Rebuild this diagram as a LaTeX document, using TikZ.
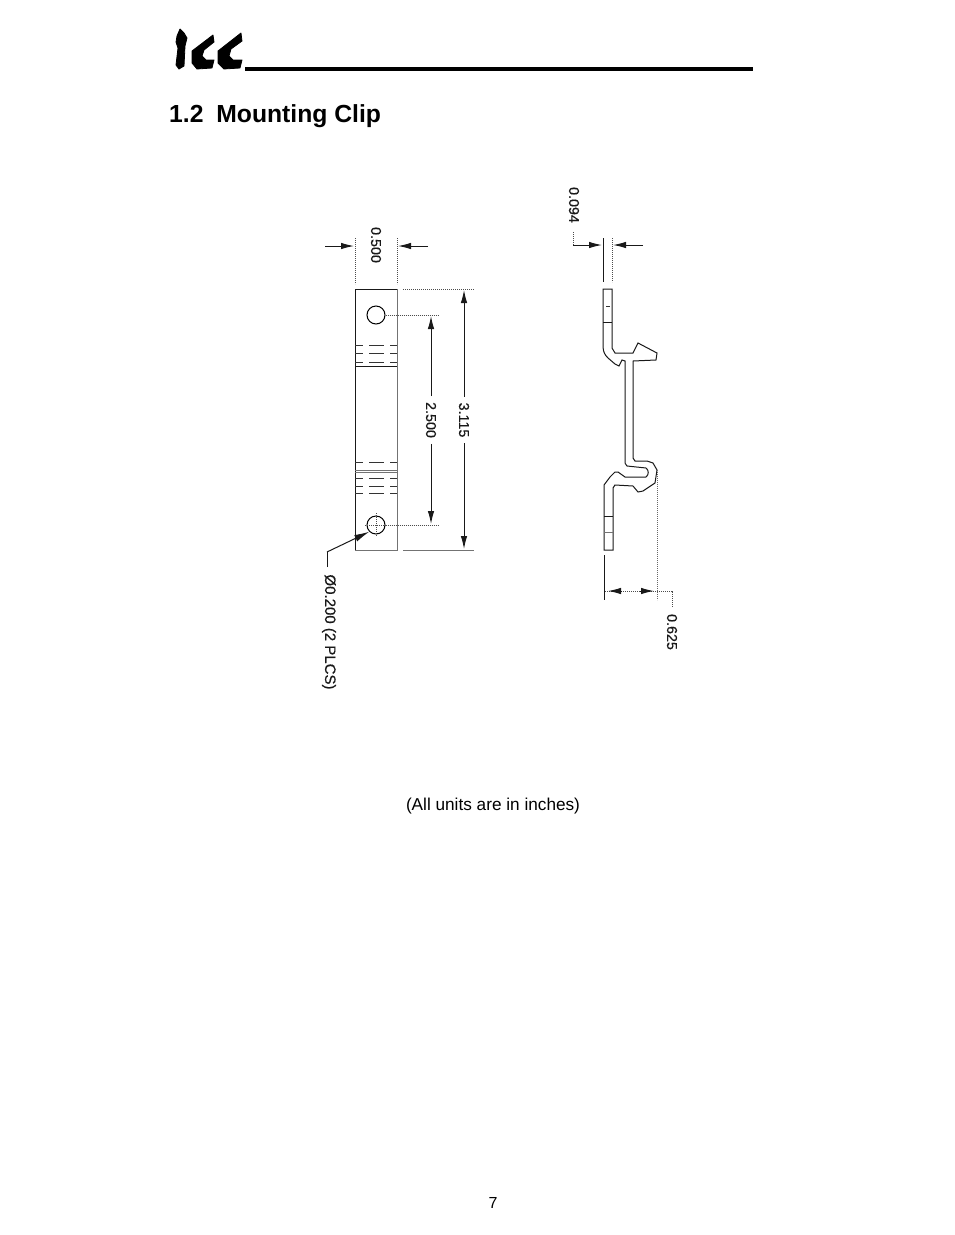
\documentclass[tikz,border=0pt]{standalone}
\usepackage{fontspec}
\setmainfont{Liberation Sans}
\newfontfamily\dimfont[FakeBold=0.4]{Liberation Sans}
\usetikzlibrary{arrows.meta}
\tikzset{
 dimline/.style={line width=1pt,black!90},
 dimhead/.style={dimline,-{Latex[length=13pt,width=6.5pt]}},
 extline/.style={line width=1pt,black!70,dash pattern=on 1.2pt off 0.8pt},
 edge/.style={line width=1pt,black!90},
 gray edge/.style={line width=1pt,black!55},
 hidden/.style={line width=1pt,black!80},
 dimtext/.style={rotate=-90,font=\dimfont\fontsize{14.3}{15}\selectfont,inner sep=0pt,outer sep=6pt,text=black!90},
 logo/.style={fill=black,draw=black,line width=0.8pt,line join=round},
}
\begin{document}
\begin{tikzpicture}[x=1pt,y=-1pt]
\useasboundingbox (0,0) rectangle (954,1235);
\fill[white] (0,0) rectangle (954,1235);
% logo
\fill[logo] (180,29) -- (184,33) -- (187,38) -- (185,46) -- (184,66) -- (179,69) -- (176,65) -- (178,48) -- (176,42) -- (177,36) -- cycle;
\fill[logo] (213,35) -- (214,42) -- (204,50) -- (202,56) -- (206,60) -- (214,60) -- (212,68) -- (197,69) -- (192,63) -- (192,51) -- cycle;
\fill[logo] (241,33) -- (242,41) -- (231,49) -- (229,56) -- (233,60) -- (242,60) -- (240,68) -- (224,69) -- (218,63) -- (218,51) -- cycle;
\fill (245,67) rectangle (753,71);
\node[anchor=base west,inner sep=0pt,font=\bfseries\fontsize{24.7}{30}\selectfont] (title) at (169,122) {1.2\hspace{0.52em}Mounting Clip};
% front view
\draw[edge] (355,289) -- (397,289);
\draw[edge] (355,289) -- (355,550);
\draw[gray edge] (397,289) -- (397,550) -- (355,550);
\node[circle,draw,line width=1pt,minimum size=18pt,inner sep=0pt] (hole1) at (376,315) {};
\node[circle,draw,line width=1pt,minimum size=18pt,inner sep=0pt] (hole2) at (376,525) {};
\draw[extline] (376,513) -- (376,536);
\draw[extline] (365,525) -- (386,525);
\foreach \y in {345,353,362,462,478,486,493}
  \foreach \a/\b in {355/363,369/384,390/397}
    \draw[hidden] (\a,\y) -- (\b,\y);
\draw[edge] (355,366) -- (397,366);
\draw[gray edge] (355,470) -- (397,470);
\draw[gray edge] (355,472.5) -- (397,472.5);
% dim 0.500
\draw[extline] (355,238) -- (355,284);
\draw[extline] (397,238) -- (397,284);
\coordinate (a1) at (325,246); \coordinate (a2) at (354,246);
\coordinate (a3) at (428,246); \coordinate (a4) at (398,246);
\draw[dimhead] (a1) -- (a2);
\draw[dimhead] (a3) -- (a4);
\node[dimtext] (t500) at (376,245) {0.500};
% dim 2.500
\draw[extline] (hole1.east) -- (439,315);
\draw[extline] (hole2.east) -- (439,525);
\node[dimtext] (t2500) at (431,420) {2.500};
\draw[dimhead] (t2500.west) -- (431,316);
\draw[dimhead] (t2500.east) -- (431,524);
% dim 3.115
\draw[extline] (403,289) -- (474,289);
\draw[gray edge] (403,550) -- (474,550);
\node[dimtext] (t3115) at (464,420) {3.115};
\draw[dimhead] (t3115.west) -- (464,290);
\draw[dimhead] (t3115.east) -- (464,549);
% leader
\coordinate (l0) at (327,567); \coordinate (l1) at (327,552);
\draw[dimline] (l0) -- (l1);
\draw[dimline,-{Latex[length=15pt,width=7pt]}] (l1) -- (hole2.south west);
\node[dimtext,font=\dimfont\fontsize{15}{16}\selectfont] (t200) at (329,632) {Ø0.200 (2 PLCS)};
% side view
\draw[edge] (612,289) -- (603,289) -- (603,346) .. controls (603,352) and (605,355) .. (608,358)
 -- (615,364) -- (619,366) -- (622,360) -- (625,361) -- (625,458)
 .. controls (625,463) and (625,465) .. (627,466) -- (646,468) .. controls (649,470) and (649,475) .. (646,477)
 -- (625,477) -- (618,472) -- (615,472) -- (610,477) -- (604,485) -- (604,550) -- (613,550) -- (613,488)
 -- (615,485) -- (633,486) -- (638,492) -- (643,491) -- (655,483) -- (657,470) -- (653,463)
 -- (647,461) -- (635,461) -- (633,458) -- (633,361) -- (656,360) -- (657,353) -- (638,343)
 -- (633,353) -- (615,353) -- (612,348) -- cycle;
\draw[edge] (603,322) -- (612,322);
\draw[hidden] (606,306) -- (610,306);
\draw[edge] (604,516) -- (613,516);
\draw[gray edge] (604,532) -- (613,532);
% dim 0.094
\draw[dimline] (603,238) -- (603,282);
\draw[extline] (612,238) -- (612,282);
\coordinate (b0) at (573,232); \coordinate (b1) at (573,245); \coordinate (b2) at (602,245);
\draw[extline] (b0) -- (b1);
\draw[dimhead] (b1) -- (b2);
\coordinate (b3) at (643,245); \coordinate (b4) at (613,245);
\draw[dimhead] (b3) -- (b4);
\node[dimtext] (t094) at (574,205) {0.094};
% dim 0.625
\draw[dimline] (604,555) -- (604,600);
\draw[extline,line width=0.8pt,black!60] (657,470) -- (657,600);
\coordinate (c0) at (605,591); \coordinate (c1) at (657,591); \coordinate (c2) at (672,591); \coordinate (c3) at (672,607);
\draw[extline] (c0) -- (c1);
\draw[dimhead] (622,591) -- (608,591);
\draw[dimhead] (640,591) -- (654,591);
\draw[extline] (c1) -- (c2) -- (c3);
\node[dimtext] (t625) at (672,632) {0.625};
% captions
\node[inner sep=0pt,font=\fontsize{17.2}{20}\selectfont] (cap) at (493,806) {(All units are in inches)};
\node[inner sep=0pt,font=\fontsize{16}{20}\selectfont] (pg) at (493,1203) {7};
\end{tikzpicture}
\end{document}
